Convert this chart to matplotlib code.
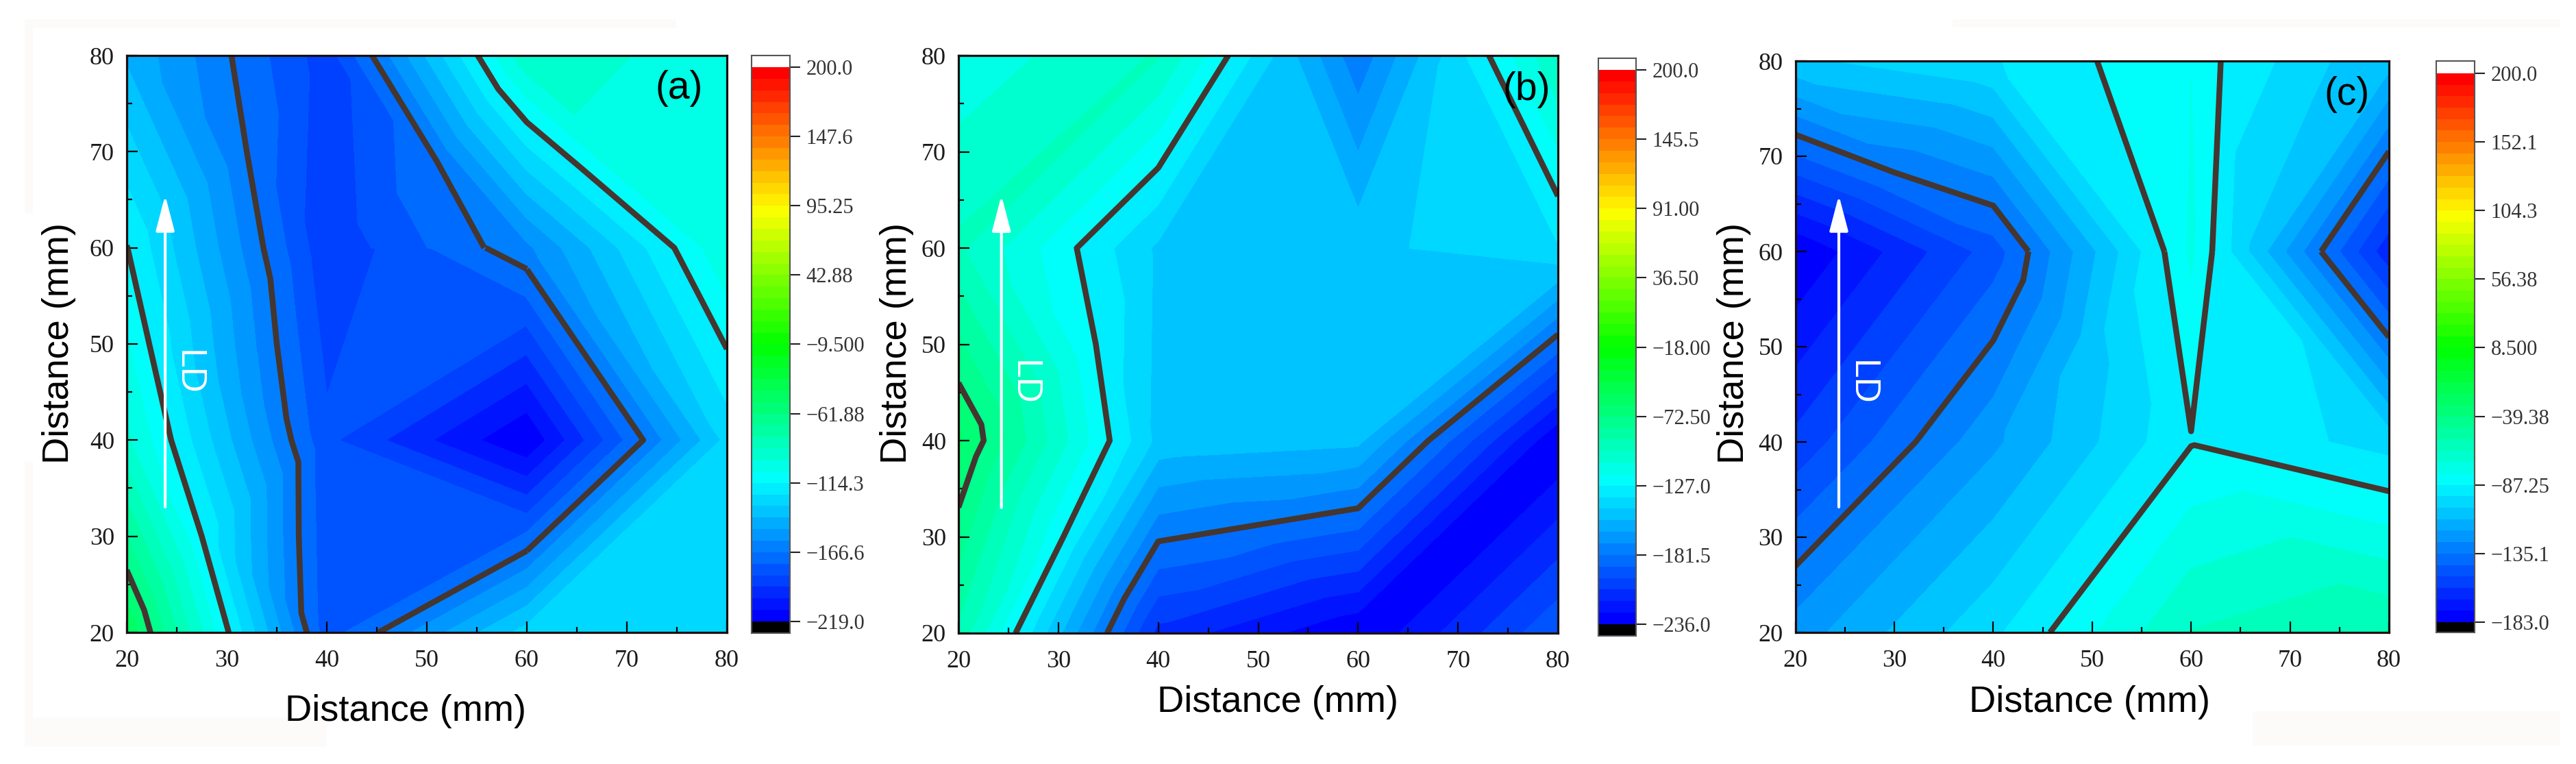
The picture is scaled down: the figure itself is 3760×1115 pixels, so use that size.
import numpy as np
import matplotlib
matplotlib.use("Agg")
import matplotlib.pyplot as plt
from matplotlib.colors import LinearSegmentedColormap
from matplotlib.ticker import MultipleLocator
from matplotlib.tri import Triangulation
from matplotlib.patches import Rectangle

W, H = 3760, 1115
SANS = "Liberation Sans"
SERIF = "Liberation Serif"

X_GRID = [20, 40, 60, 80]
Y_GRID = [20, 40, 60, 80]

# measured values, rows y = 20, 40, 60, 80
Z_A = [[-46, -180, -128, -125],
       [-95, -182, -218.9, -129],
       [-114, -191, -160, -98],
       [-142, -189, -90, -103]]
Z_B = [[-93, -212, -235.9, -192],
       [-61.6, -148, -152, -235.9],
       [-98, -147, -148, -137],
       [-115, -99, -179, -100]]
Z_C = [[-123.4, -97, -63, -55],
       [-157, -121, -87.8, -98.5],
       [-182.9, -147.5, -78, -165],
       [-105, -96, -79.4, -108]]

# cell split per grid cell, rows from y = 20: '/' or '\\' diagonals, an extra measured node (x, y, z)
# fanned to the corners, or a dict of extra nodes with triangles
# (0-3 = corners counter-clockwise from lower left, 4+ = extra nodes)
STRIP = [(0, 1, 4), (1, 5, 4), (1, 2, 5), (2, 4, 5), (2, 3, 4), (3, 0, 4)]
CELLS_A = [[dict(nodes=[(27.5, 30, -114.3), (37.2, 30, -166.6)], tris=STRIP),
            (60, 31.5, -180.3), '/'],
           [dict(nodes=[(22.25, 50, -114.3), (35, 50, -166.6)], tris=STRIP),
            dict(nodes=[(60, 52, -184.0), (45, 60, -184.0)],
                 tris=[(4, 2, 5), (0, 1, 4), (0, 4, 5), (0, 5, 3)]), '\\'],
           [(32, 70, -166.6), (51, 69, -166.6), (67, 71, -100)]]
CELLS_B = [[(30.5, 30, -127), (50, 31.25, -181.5), '/'],
           [(33.75, 50, -127), '/', (80, 57.5, -149.4)],
           ['/', (52.5, 80, -149), (68.5, 80, -145)]]
CELLS_C = [['/', '/', '\\'],
           ['/', dict(nodes=[(50, 50, -106.6), (57.3, 60, -87.25)],
                      tris=[(0, 1, 4), (1, 5, 4), (1, 2, 5), (5, 3, 4), (3, 0, 4)]),
            (63.3, 60, -92.3)],
           [(30, 68.3, -135.1),
            dict(nodes=[(57.3, 60, -87.25), (50.5, 80, -87.25)],
                 tris=[(0, 4, 3), (4, 5, 3), (4, 1, 2), (4, 2, 5)]),
            dict(nodes=[(66, 60, -104), (63, 80, -87.25), (73.8, 80, -103)],
                 tris=[(0, 4, 5), (4, 6, 5), (4, 1, 2), (4, 2, 6), (0, 5, 3)])]]

TICKS_A = [200.0, 147.6, 95.25, 42.88, -9.5, -61.88, -114.3, -166.6, -219.0]
TICKS_B = [200.0, 145.5, 91.0, 36.5, -18.0, -72.5, -127.0, -181.5, -236.0]
TICKS_C = [200.0, 152.1, 104.3, 56.38, 8.5, -39.38, -87.25, -135.1, -183.0]
LABELS_A = ['200.0', '147.6', '95.25', '42.88', '\u22129.500', '\u221261.88', '\u2212114.3', '\u2212166.6', '\u2212219.0']
LABELS_B = ['200.0', '145.5', '91.00', '36.50', '\u221218.00', '\u221272.50', '\u2212127.0', '\u2212181.5', '\u2212236.0']
LABELS_C = ['200.0', '152.1', '104.3', '56.38', '8.500', '\u221239.38', '\u221287.25', '\u2212135.1', '\u2212183.0']
TICK_VALUES = [20, 30, 40, 50, 60, 70, 80]

N_BANDS = 48
RAINBOW = LinearSegmentedColormap.from_list(
    'origin_rainbow', ['#0000ff', '#00ffff', '#00ff00', '#ffff00', '#ff0000'])
LINE_COLOR = '#453630'
PATCH_COLOR = '#fcfbf9'
# faint off-white scan patches behind the figure (left, top, right, bottom in pixels)
PATCHES = [(36, 28, 987, 41), (36, 41, 48, 312), (36, 673, 48, 1090), (36, 1047, 477, 1090),
           (2850, 28, 3737, 40), (3288, 1038, 3737, 1088)]


def build_mesh(z_grid, cells):
    xs, ys, zs = [], [], []
    for j, y in enumerate(Y_GRID):
        for i, x in enumerate(X_GRID):
            xs.append(x); ys.append(y); zs.append(z_grid[j][i])
    tris = []
    for j in range(3):
        for i in range(3):
            a, b = j * 4 + i, j * 4 + i + 1
            c, d = (j + 1) * 4 + i + 1, (j + 1) * 4 + i
            kind = cells[j][i]
            if isinstance(kind, str) and kind == '/':
                tris += [[a, b, c], [a, c, d]]
            elif isinstance(kind, str):
                tris += [[a, b, d], [b, c, d]]
            elif isinstance(kind, dict):
                ids = [a, b, c, d]
                for nx, ny, nz in kind['nodes']:
                    ids.append(len(xs))
                    xs.append(nx); ys.append(ny); zs.append(nz)
                tris += [[ids[p], ids[q], ids[r]] for p, q, r in kind['tris']]
            else:
                n = len(xs)
                xs.append(kind[0]); ys.append(kind[1]); zs.append(kind[2])
                poly = [a, b, c, d, a]
                for p, q in zip(poly[:-1], poly[1:]):
                    area = (xs[p] - xs[n]) * (ys[q] - ys[n]) - (xs[q] - xs[n]) * (ys[p] - ys[n])
                    if abs(area) > 1e-9:
                        tris.append([n, p, q])
    return Triangulation(xs, ys, tris), np.array(zs, float)


def px_axes(fig, l, t, r, b):
    return fig.add_axes([l / W, 1 - b / H, (r - l) / W, (b - t) / H])


def panel(fig, box, cbox, z_grid, cells, ticks, labels, tag, tag_xy, xlab_xy, ylab_xy, arrow_x, arrow_y, ld_xy):
    ax = px_axes(fig, *box)
    tri, z = build_mesh(z_grid, cells)
    vmax, vmin = ticks[0], ticks[-1]
    edges = np.linspace(vmin, vmax, N_BANDS + 1)
    cols = [RAINBOW(k / (N_BANDS - 1)) for k in range(N_BANDS)]
    cs = ax.tricontourf(tri, z, levels=edges, colors=cols)
    cs.set_edgecolor('face')
    cs.set_linewidth(0.6)
    ax.tricontour(tri, z, levels=sorted(ticks[1:-1]), colors=LINE_COLOR, linewidths=6.1, linestyles='solid')
    ax.set_xlim(20, 80); ax.set_ylim(20, 80)
    ax.set_xticks(TICK_VALUES); ax.set_yticks(TICK_VALUES)
    ax.xaxis.set_minor_locator(MultipleLocator(5)); ax.yaxis.set_minor_locator(MultipleLocator(5))
    ax.tick_params(which='major', direction='in', length=11.5, width=1.6, labelsize=26, labelcolor='#1a1a1a')
    ax.tick_params(which='minor', direction='in', length=6, width=1.6)
    ax.tick_params(axis='x', which='major', pad=18)
    ax.tick_params(axis='y', which='major', pad=13)
    for lab in ax.get_xticklabels() + ax.get_yticklabels():
        lab.set_fontfamily(SERIF)
    for s in ax.spines.values():
        s.set_linewidth(2.3); s.set_color('#1a1010'); s.set_zorder(10)

    ax.annotate('', xy=(arrow_x, arrow_y[1]), xytext=(arrow_x, arrow_y[0]),
                arrowprops=dict(arrowstyle='-|>,head_length=32,head_width=8.4', mutation_scale=1,
                                color='white', lw=3, shrinkA=0, shrinkB=0))
    fig.text(ld_xy[0] / W, 1 - ld_xy[1] / H, 'LD', color='white', rotation=270, fontsize=37,
             family=SANS, ha='center', va='center')
    fig.text(tag_xy[0] / W, 1 - tag_xy[1] / H, tag, fontsize=41, family=SANS, ha='center', va='center', color='black')
    fig.text(xlab_xy[0] / W, 1 - xlab_xy[1] / H, 'Distance (mm)', fontsize=39, family=SANS, ha='center', va='center', color='black')
    fig.text(ylab_xy[0] / W, 1 - ylab_xy[1] / H, 'Distance (mm)', fontsize=39, family=SANS, rotation=90, ha='center', va='center', color='black')

    # colour scale
    cl, ct, cr, cb, py_max, py_min = cbox
    cax = px_axes(fig, cl, ct, cr, cb)
    vpp = (vmax - vmin) / (py_min - py_max)
    low, high = vmin - (cb - py_min) * vpp, vmax + (py_max - ct) * vpp
    cax.pcolormesh([0, 1], edges, np.arange(N_BANDS).reshape(-1, 1), cmap=RAINBOW, shading='flat')
    cax.add_patch(Rectangle((0, low), 1, vmin - low, color='black', lw=0))
    cax.set_xlim(0, 1); cax.set_ylim(low, high)
    cax.set_xticks([])
    cax.yaxis.tick_right()
    cax.set_yticks(ticks); cax.set_yticklabels(labels, family=SERIF, fontsize=22, color='#333333')
    cax.tick_params(axis='y', direction='out', length=11, width=1.5, pad=6, color='#222222')
    for s in cax.spines.values():
        s.set_linewidth(1.5); s.set_color('#555555')


fig = plt.figure(figsize=(W / 100, H / 100), dpi=100, facecolor='white')
for l, t, r, b in PATCHES:
    fig.patches.append(Rectangle((l / W, 1 - b / H), (r - l) / W, (b - t) / H, transform=fig.transFigure,
                                 facecolor=PATCH_COLOR, edgecolor='none', figure=fig, zorder=-1))

panel(fig, (185, 81, 1061, 923), (1097, 81, 1153, 924, 98, 907), Z_A, CELLS_A, TICKS_A, LABELS_A,
      '(a)', (991, 129), (592, 1038), (86, 501), 23.84, (33.05, 65.47), (274, 543.5))
panel(fig, (1399, 81, 2274, 924), (2333, 85, 2388, 928, 102, 911), Z_B, CELLS_B, TICKS_B, LABELS_B,
      '(b)', (2228, 131), (1865, 1025), (1309, 501), 24.3, (33.05, 65.47), (1494, 559))
panel(fig, (2620.5, 89, 3487, 923), (3556, 89, 3612, 923, 107, 908), Z_C, CELLS_C, TICKS_C, LABELS_C,
      '(c)', (3426, 138), (3050, 1025), (2531, 501), 24.4, (33.17, 65.9), (2717, 559))

fig.savefig('out.png', dpi=100, facecolor='white')
